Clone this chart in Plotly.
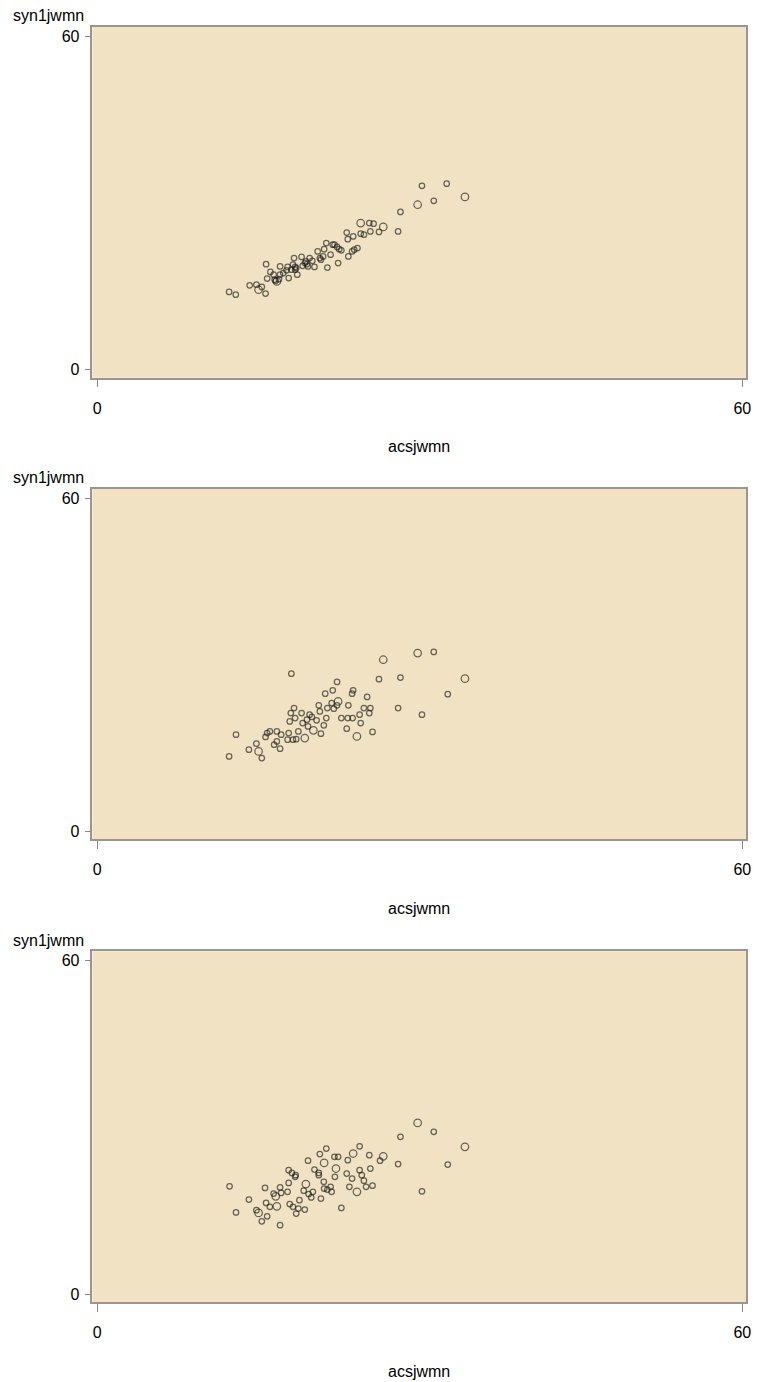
import plotly.graph_objects as go

# ---------------- data ----------------
x_label = "acsjwmn"
y_label = "syn1jwmn"
tick_vals = [0, 60]

# panel 1
x1 = [12.26, 12.88, 14.17, 14.8, 15.0, 15.3, 15.65, 15.7, 16.1, 15.8, 16.4, 16.7, 16.5, 17.0, 17.0,
      17.7, 17.8, 18.05, 18.2, 18.4, 18.6, 18.3, 19.0, 19.1, 19.4, 19.6, 19.75, 20.2, 20.5, 20.7,
      21.0, 21.1, 20.8, 21.3, 21.4, 21.7, 21.9, 22.06, 22.3, 22.5, 22.4, 22.7, 23.2, 23.3, 23.35,
      23.7, 23.8, 23.9, 24.2, 24.5, 24.5, 24.8, 25.3, 25.4, 25.7, 26.2, 26.6, 27.98, 28.2, 29.8,
      30.2, 31.3, 32.5, 34.2, 16.6, 16.9, 17.3, 17.6, 18.4, 18.5, 19.3, 19.5, 20.0]
y1 = [14.0, 13.5, 15.2, 15.3, 14.4, 14.9, 13.7, 19.0, 17.6, 16.4, 17.1, 15.9, 16.2, 18.6, 17.1,
      18.5, 16.5, 18.0, 18.9, 18.5, 17.1, 20.1, 20.3, 18.7, 19.5, 18.6, 20.1, 18.5, 21.3, 20.1,
      20.4, 21.7, 19.8, 22.8, 18.4, 20.7, 22.5, 22.5, 22.1, 21.7, 19.2, 21.5, 24.7, 23.5, 20.4,
      21.3, 24.0, 21.6, 21.9, 26.4, 24.5, 24.3, 26.4, 24.9, 26.3, 24.8, 25.7, 24.9, 28.4, 29.7,
      33.1, 30.4, 33.5, 31.1, 16.0, 16.3, 17.4, 17.9, 18.0, 18.3, 19.2, 19.0, 19.6]
w1 = [1, 1, 1, 1, 2, 1, 1, 1, 1, 1, 1, 2, 1, 1, 1,
      1, 1, 1, 1, 1, 1, 1, 1, 1, 1, 1, 1, 1, 1, 1,
      1, 1, 1, 1, 1, 1, 1, 1, 1, 1, 1, 1, 1, 1, 1,
      1, 1, 1, 1, 2, 1, 1, 1, 1, 1, 1, 2, 1, 1, 2,
      1, 1, 1, 2, 1, 1, 1, 1, 1, 1, 1, 1, 1]

# panel 2
x2 = [12.26, 12.9, 14.1, 14.8, 15.0, 15.3, 15.65, 15.8, 16.05, 16.45, 16.7, 16.7, 17.0, 17.1, 17.7,
      17.8, 17.9, 18.0, 18.05, 18.2, 18.3, 18.4, 18.5, 18.7, 19.0, 19.1, 19.3, 19.5, 19.6, 19.75,
      19.96, 20.1, 20.4, 20.6, 20.7, 20.8, 21.07, 21.2, 21.3, 21.4, 21.8, 21.9, 22.0, 22.3, 22.3,
      22.4, 22.7, 23.2, 23.3, 23.35, 23.7, 23.75, 23.8, 24.15, 24.4, 24.5, 24.8, 25.1, 25.3, 25.4,
      25.6, 26.2, 26.6, 27.98, 28.2, 29.8, 30.2, 31.3, 32.6, 34.2]
y2 = [13.5, 17.4, 14.7, 15.8, 14.4, 13.2, 17.0, 17.7, 18.0, 15.6, 16.2, 18.0, 14.9, 17.4, 16.5,
      17.7, 19.8, 21.3, 28.4, 16.5, 22.2, 20.4, 16.6, 18.0, 21.3, 19.5, 16.8, 20.1, 18.9, 21.0,
      20.6, 18.2, 20.0, 22.7, 21.6, 17.6, 19.1, 24.8, 20.4, 22.2, 23.1, 25.4, 22.1, 26.9, 22.7,
      23.4, 20.4, 18.5, 20.4, 22.7, 24.8, 20.4, 25.4, 17.1, 21.0, 19.5, 22.2, 24.2, 21.3, 22.2,
      17.9, 27.4, 30.9, 22.2, 27.7, 32.1, 21.0, 32.3, 24.7, 27.5]
w2 = [1, 1, 1, 1, 2, 1, 1, 1, 1, 1, 1, 1, 1, 1, 1,
      1, 1, 1, 1, 1, 1, 1, 1, 1, 1, 1, 2, 1, 1, 1,
      1, 2, 1, 1, 1, 1, 1, 1, 1, 1, 1, 1, 1, 1, 1,
      2, 1, 1, 1, 1, 1, 1, 1, 2, 1, 1, 1, 1, 1, 1,
      1, 1, 2, 1, 1, 2, 1, 1, 1, 2]

# panel 3
x3 = [12.3, 12.9, 14.1, 14.8, 15.0, 15.3, 15.6, 15.8, 15.7, 16.05, 16.4, 16.6, 16.7, 17.0, 17.0,
      17.1, 17.7, 17.8, 17.8, 17.9, 18.1, 18.2, 18.4, 18.45, 18.5, 18.7, 18.8, 19.2, 19.3, 19.4,
      19.6, 19.66, 19.9, 20.05, 20.2, 20.6, 20.6, 20.7, 20.8, 21.07, 21.1, 21.1, 21.3, 21.4, 21.7,
      21.8, 22.06, 22.1, 22.2, 22.4, 22.7, 23.2, 23.3, 23.45, 23.7, 23.8, 24.15, 24.4, 24.4, 24.6,
      24.8, 25.0, 25.3, 25.4, 25.6, 26.3, 26.6, 27.98, 28.2, 29.8, 30.2, 31.3, 32.6, 34.2]
y3 = [19.4, 14.7, 17.0, 15.1, 14.6, 13.1, 19.1, 14.0, 16.4, 15.7, 18.1, 17.6, 15.8, 12.4, 19.2,
      18.2, 18.4, 22.3, 20.0, 16.2, 21.8, 15.7, 21.1, 21.4, 14.5, 15.4, 16.9, 18.6, 15.2, 19.8,
      24.0, 18.0, 17.4, 18.4, 22.4, 21.8, 21.4, 25.2, 17.2, 20.2, 23.6, 19.0, 26.2, 18.8, 19.3,
      18.4, 24.7, 21.1, 22.6, 24.7, 15.5, 21.7, 24.1, 19.3, 20.8, 25.3, 18.4, 22.3, 26.6, 21.4,
      20.4, 19.3, 25.0, 22.6, 19.5, 24.0, 24.8, 23.4, 28.3, 30.8, 18.5, 29.2, 23.3, 26.5]
w3 = [1, 1, 1, 1, 2, 1, 1, 1, 1, 1, 1, 2, 2, 1, 1,
      1, 1, 1, 1, 1, 1, 1, 1, 1, 1, 1, 1, 1, 1, 2,
      1, 1, 1, 1, 1, 1, 1, 1, 1, 1, 2, 1, 1, 1, 1,
      1, 1, 1, 2, 1, 1, 1, 1, 1, 1, 2, 2, 1, 1, 1,
      1, 1, 1, 1, 1, 1, 2, 1, 1, 2, 1, 1, 1, 2]

panels = [(x1, y1, w1), (x2, y2, w2), (x3, y3, w3)]

# ---------------- layout ----------------
W, H = 758, 1382
plot_left, plot_right = 93, 751
panel_tops = [27, 489, 952]
panel_h = 351
bg = "#F0E2C2"
font_family = "Liberation Sans, Arial, Helvetica, sans-serif"
mk_color = "rgba(25,25,25,0.9)"

fig = go.Figure()
layout = dict(
    width=W, height=H,
    margin=dict(l=0, r=0, t=0, b=0),
    paper_bgcolor="white",
    plot_bgcolor=bg,
    showlegend=False,
    font=dict(family=font_family, size=16, color="black"),
)
annotations = []

for i, (xs, ys, ws) in enumerate(panels):
    n = "" if i == 0 else str(i + 1)
    top = panel_tops[i]
    bottom = top + panel_h
    fig.add_trace(go.Scatter(
        x=xs, y=ys, mode="markers",
        xaxis="x" + n, yaxis="y" + n,
        marker=dict(symbol="circle-open",
                    size=[5.5 if w == 1 else 7.5 for w in ws],
                    color=mk_color,
                    line=dict(width=1.25, color=mk_color)),
        hoverinfo="x+y",
    ))
    layout["xaxis" + n] = dict(
        domain=[plot_left / W, plot_right / W],
        anchor="y" + n,
        range=[-0.46, 60.35],
        tickvals=tick_vals, ticktext=[str(v) for v in tick_vals],
        ticks="outside", ticklen=8, tickwidth=1, tickcolor="#8a8a8a",
        ticklabelstandoff=7,
        showgrid=False, zeroline=False,
        showline=True, mirror=True, linecolor="#9a9590", linewidth=1.5,
        tickfont=dict(size=16, color="black", family=font_family),
        fixedrange=True,
    )
    layout["yaxis" + n] = dict(
        domain=[1 - bottom / H, 1 - top / H],
        anchor="x" + n,
        range=[-1.44, 61.7],
        tickvals=tick_vals, ticktext=[str(v) for v in tick_vals],
        ticks="outside", ticklen=6, tickwidth=1, tickcolor="#8a8a8a",
        ticklabelstandoff=2,
        showgrid=False, zeroline=False,
        showline=True, mirror=True, linecolor="#9a9590", linewidth=1.5,
        tickfont=dict(size=16, color="black", family=font_family),
        fixedrange=True,
    )
    annotations.append(dict(
        text=x_label, xref="paper", yref="paper",
        x=(plot_left + plot_right) / 2 / W, y=1 - (bottom + 69) / H,
        xanchor="center", yanchor="middle", showarrow=False,
        font=dict(size=16, color="black", family=font_family),
    ))
    annotations.append(dict(
        text=y_label, xref="paper", yref="paper",
        x=87 / W, y=1 - (top - 11) / H,
        xanchor="right", yanchor="middle", showarrow=False,
        font=dict(size=16, color="black", family=font_family),
    ))

layout["annotations"] = annotations
fig.update_layout(**layout)

fig.write_html(
    "out.html",
    config={"displayModeBar": False},
    post_script="document.body.style.margin='0px';document.body.style.overflow='hidden';",
)
